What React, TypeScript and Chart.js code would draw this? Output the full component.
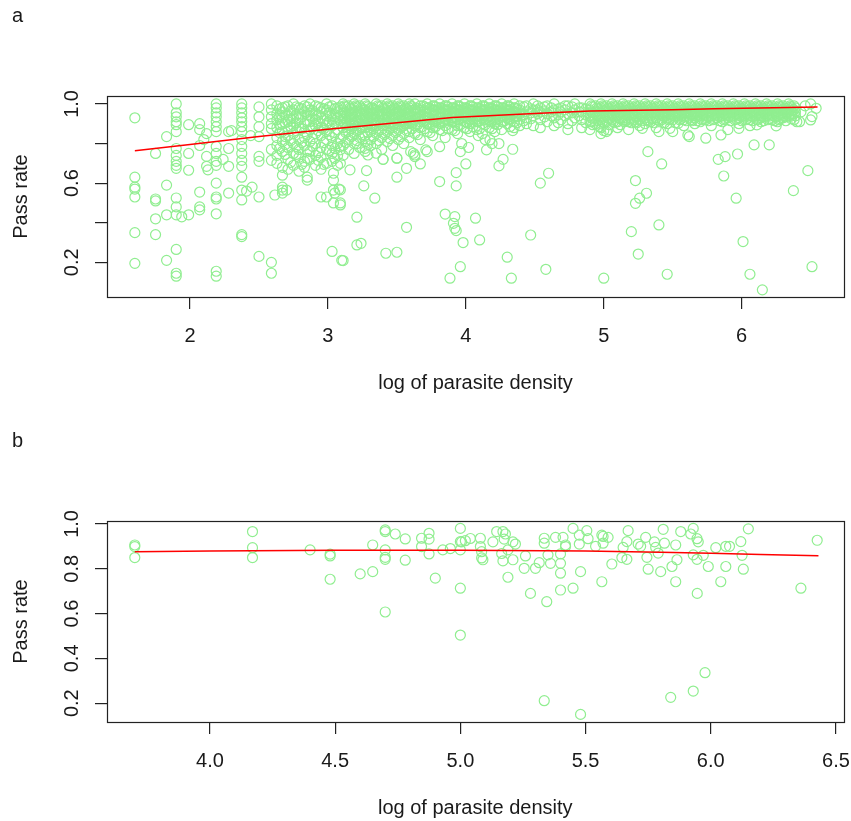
import React, { useEffect, useRef } from "react";
import { Chart, registerables } from "chart.js";

Chart.register(...registerables);

const W = 851;
const FONT = '"Liberation Sans", Arial, Helvetica, sans-serif';

// ---------------- Panel a ----------------
// scattered points (x = log of parasite density, y = pass rate)
const pointsA: [number, number][] = [
  [1.60, 0.93], [1.60, 0.63], [1.60, 0.58], [1.60, 0.57], [1.60, 0.53], [1.60, 0.35], [1.60, 0.195],
  [1.75, 0.75], [1.75, 0.52], [1.75, 0.51], [1.75, 0.42], [1.75, 0.34],
  [1.83, 0.835], [1.83, 0.59], [1.83, 0.44], [1.83, 0.21],
  [1.90, 1.0], [1.90, 0.955], [1.90, 0.935], [1.90, 0.91], [1.90, 0.895], [1.90, 0.86], [1.90, 0.775],
  [1.90, 0.74], [1.90, 0.71], [1.90, 0.69], [1.90, 0.675], [1.90, 0.525], [1.90, 0.48], [1.90, 0.44],
  [1.90, 0.265], [1.90, 0.145], [1.90, 0.13],
  [1.99, 0.895], [1.99, 0.75], [1.99, 0.665], [1.99, 0.44], [1.94, 0.43],
  [2.07, 0.90], [2.07, 0.87], [2.07, 0.79], [2.07, 0.555], [2.07, 0.48], [2.07, 0.465],
  [2.12, 0.85], [2.12, 0.735], [2.12, 0.685], [2.10, 0.82], [2.13, 0.667],
  [2.19, 1.0], [2.19, 0.98], [2.19, 0.955], [2.19, 0.935], [2.19, 0.91], [2.19, 0.885], [2.19, 0.86],
  [2.19, 0.785], [2.19, 0.75], [2.19, 0.71], [2.19, 0.69], [2.19, 0.60], [2.19, 0.53], [2.19, 0.52],
  [2.19, 0.445], [2.19, 0.155], [2.19, 0.13],
  [2.28, 0.86], [2.30, 0.865], [2.28, 0.775], [2.28, 0.685], [2.28, 0.55], [2.24, 0.72],
  [2.375, 1.0], [2.375, 0.98], [2.375, 0.955], [2.375, 0.93], [2.375, 0.91], [2.375, 0.885], [2.375, 0.86],
  [2.375, 0.82], [2.375, 0.785], [2.375, 0.75], [2.375, 0.715], [2.375, 0.685], [2.375, 0.63],
  [2.375, 0.565], [2.375, 0.515], [2.375, 0.34], [2.375, 0.33],
  [2.41, 0.56], [2.44, 0.84], [2.45, 0.58],
  [2.50, 0.985], [2.50, 0.935], [2.50, 0.885], [2.50, 0.835], [2.50, 0.735], [2.50, 0.71], [2.50, 0.53], [2.50, 0.23],
  [2.59, 1.0], [2.59, 0.97], [2.59, 0.935], [2.59, 0.90], [2.59, 0.875], [2.59, 0.77], [2.59, 0.715],
  [2.59, 0.20], [2.59, 0.145], [2.615, 0.54],
  [2.67, 0.58], [2.67, 0.565], [2.67, 0.55], [2.70, 0.565],
  [2.85, 0.63], [2.85, 0.615], [2.95, 0.53], [2.99, 0.53],
  [3.04, 0.65], [3.04, 0.615], [3.04, 0.565], [3.04, 0.50], [3.09, 0.50], [3.08, 0.57], [3.05, 0.55],
  [3.03, 0.255], [3.10, 0.21],
  [3.09, 0.768], [3.09, 0.70], [3.09, 0.566], [3.09, 0.49], [3.16, 0.667], [3.21, 0.428],
  [3.21, 0.288], [3.24, 0.296], [3.11, 0.209], [3.26, 0.586], [3.28, 0.663], [3.34, 0.524],
  [3.40, 0.72], [3.42, 0.246], [3.50, 0.251], [3.50, 0.63], [3.50, 0.726], [3.57, 0.675], [3.57, 0.377],
  [3.62, 0.751], [3.63, 0.734], [3.67, 0.697], [3.72, 0.759], [3.81, 0.608], [3.85, 0.444],
  [3.91, 0.397], [3.92, 0.372], [3.93, 0.36], [3.92, 0.431], [3.93, 0.653], [3.93, 0.586],
  [3.96, 0.759], [4.00, 0.697], [3.885, 0.12], [3.96, 0.178], [3.98, 0.30], [4.07, 0.423], [4.10, 0.313],
  [4.15, 0.768], [4.175, 0.818], [4.19, 0.80], [4.24, 0.80], [4.24, 0.687], [4.27, 0.72],
  [4.30, 0.226], [4.34, 0.865], [4.34, 0.771], [4.33, 0.12], [4.47, 0.338], [4.54, 0.60], [4.60, 0.65],
  [4.58, 0.165],
  [3.21, 0.80], [3.27, 0.776], [3.29, 0.742], [3.35, 0.751], [3.40, 0.72], [3.50, 0.726], [3.60, 0.759],
  [3.63, 0.742], [3.71, 0.768], [3.81, 0.784], [3.97, 0.80], [4.02, 0.78], [4.09, 0.84], [4.14, 0.82],
  [5.32, 0.759], [5.42, 0.697], [5.23, 0.613], [5.31, 0.549], [5.26, 0.524], [5.23, 0.498],
  [5.20, 0.355], [5.40, 0.389], [5.25, 0.242], [5.00, 0.12], [5.46, 0.14],
  [5.83, 0.72], [5.88, 0.734], [5.97, 0.747], [5.87, 0.636], [5.96, 0.524], [6.09, 0.793], [6.20, 0.793],
  [6.01, 0.305], [6.06, 0.14], [6.15, 0.061], [6.375, 0.562], [6.48, 0.663], [6.51, 0.178],
  [4.97, 0.885], [5.03, 0.869], [5.15, 0.91], [5.28, 0.877], [5.40, 0.86], [5.48, 0.877], [5.54, 0.902],
  [5.61, 0.843], [5.62, 0.835], [5.74, 0.827], [5.85, 0.843], [5.98, 0.877], [6.11, 0.894], [6.25, 0.889],
  [6.42, 0.91], [6.50, 1.0], [6.54, 0.978], [6.51, 0.936], [6.50, 0.919], [6.40, 0.91], [6.46, 0.99],
  [6.43, 0.96],
];

// dense band of points, listed per x position
const bandA: [number, number[]][] = [
  [2.63, [0.99, 0.95, 0.92, 0.88, 0.83, 0.79, 0.74, 0.70]],
  [2.67, [0.98, 0.96, 0.93, 0.90, 0.86, 0.81, 0.76, 0.68, 0.64]],
  [2.71, [0.99, 0.94, 0.91, 0.87, 0.84, 0.78, 0.72, 0.67]],
  [2.75, [1.0, 0.97, 0.93, 0.89, 0.85, 0.80, 0.75, 0.69]],
  [2.79, [0.98, 0.95, 0.92, 0.88, 0.82, 0.77, 0.73, 0.66]],
  [2.83, [0.99, 0.96, 0.90, 0.86, 0.83, 0.79, 0.71, 0.68]],
  [2.87, [1.0, 0.97, 0.94, 0.91, 0.87, 0.81, 0.76, 0.72]],
  [2.91, [0.99, 0.95, 0.92, 0.89, 0.85, 0.80, 0.74, 0.69]],
  [2.95, [0.98, 0.96, 0.93, 0.88, 0.84, 0.78, 0.73, 0.67]],
  [2.99, [1.0, 0.97, 0.94, 0.90, 0.86, 0.82, 0.77, 0.70]],
  [3.03, [0.99, 0.95, 0.92, 0.89, 0.83, 0.79, 0.75, 0.71]],
  [3.07, [0.98, 0.96, 0.93, 0.90, 0.87, 0.80, 0.74, 0.69]],
  [3.11, [1.0, 0.97, 0.94, 0.91, 0.88, 0.84, 0.79, 0.74]],
  [3.15, [0.99, 0.96, 0.93, 0.90, 0.86, 0.82, 0.77]],
  [3.19, [1.0, 0.98, 0.95, 0.92, 0.89, 0.85, 0.80, 0.75]],
  [3.23, [0.99, 0.96, 0.93, 0.90, 0.87, 0.83, 0.78]],
  [3.27, [1.0, 0.97, 0.94, 0.91, 0.88, 0.84, 0.81, 0.76]],
  [3.31, [0.98, 0.96, 0.93, 0.90, 0.86, 0.82, 0.79]],
  [3.35, [1.0, 0.97, 0.95, 0.92, 0.89, 0.85, 0.80]],
  [3.39, [0.99, 0.96, 0.94, 0.91, 0.87, 0.83, 0.77]],
  [3.43, [1.0, 0.98, 0.95, 0.92, 0.89, 0.86, 0.81]],
  [3.47, [0.99, 0.97, 0.94, 0.91, 0.88, 0.84, 0.79]],
  [3.51, [1.0, 0.98, 0.96, 0.93, 0.90, 0.87, 0.82]],
  [3.55, [0.99, 0.97, 0.94, 0.92, 0.89, 0.85, 0.80]],
  [3.59, [1.0, 0.98, 0.95, 0.93, 0.90, 0.86, 0.83]],
  [3.63, [1.0, 0.97, 0.95, 0.92, 0.89, 0.85]],
  [3.67, [0.99, 0.97, 0.94, 0.91, 0.88, 0.82]],
  [3.72, [1.0, 0.98, 0.95, 0.93, 0.90, 0.86]],
  [3.76, [0.99, 0.97, 0.94, 0.92, 0.88, 0.84]],
  [3.81, [1.0, 0.98, 0.96, 0.93, 0.90, 0.87]],
  [3.85, [0.99, 0.97, 0.95, 0.92, 0.89, 0.83]],
  [3.90, [1.0, 0.98, 0.96, 0.93, 0.91, 0.87]],
  [3.94, [0.99, 0.97, 0.95, 0.92, 0.89, 0.85]],
  [3.99, [1.0, 0.98, 0.96, 0.94, 0.91, 0.88]],
  [4.03, [0.99, 0.97, 0.95, 0.92, 0.90, 0.86]],
  [4.08, [1.0, 0.98, 0.96, 0.94, 0.91, 0.87]],
  [4.12, [0.99, 0.97, 0.95, 0.93, 0.90, 0.85]],
  [4.17, [1.0, 0.98, 0.96, 0.94, 0.92, 0.88]],
  [4.21, [0.99, 0.97, 0.95, 0.93, 0.90, 0.86]],
  [4.26, [1.0, 0.98, 0.96, 0.94, 0.91, 0.87]],
  [4.30, [0.99, 0.97, 0.95, 0.93, 0.90]],
  [4.35, [1.0, 0.98, 0.96, 0.94, 0.91, 0.88]],
  [4.39, [0.99, 0.97, 0.95, 0.92, 0.89]],
  [4.44, [0.99, 0.96, 0.93, 0.90]],
  [4.49, [1.0, 0.97, 0.94, 0.89]],
  [4.54, [0.98, 0.96, 0.92, 0.88]],
  [4.59, [0.99, 0.95, 0.91]],
  [4.64, [1.0, 0.97, 0.93, 0.89]],
  [4.69, [0.98, 0.96, 0.92]],
  [4.74, [0.99, 0.95, 0.90, 0.87]],
  [4.79, [1.0, 0.97, 0.93]],
  [4.84, [0.98, 0.96, 0.92, 0.88]],
  [4.90, [1.0, 0.97, 0.94, 0.91, 0.87]],
  [4.94, [0.99, 0.96, 0.93, 0.90]],
  [4.98, [1.0, 0.98, 0.95, 0.92, 0.88, 0.85]],
  [5.02, [0.99, 0.97, 0.94, 0.91, 0.86]],
  [5.06, [1.0, 0.98, 0.95, 0.92]],
  [5.10, [0.99, 0.97, 0.94, 0.91, 0.88]],
  [5.14, [1.0, 0.98, 0.96, 0.93]],
  [5.18, [0.99, 0.97, 0.94, 0.91, 0.87]],
  [5.22, [1.0, 0.98, 0.95, 0.92]],
  [5.26, [0.99, 0.97, 0.95, 0.92, 0.89]],
  [5.30, [1.0, 0.98, 0.96, 0.93, 0.90]],
  [5.34, [0.99, 0.97, 0.94, 0.91]],
  [5.38, [1.0, 0.98, 0.96, 0.93, 0.88]],
  [5.42, [0.99, 0.97, 0.95, 0.92]],
  [5.46, [1.0, 0.98, 0.96, 0.93, 0.90]],
  [5.50, [0.99, 0.97, 0.95, 0.92, 0.86]],
  [5.54, [1.0, 0.98, 0.96, 0.94]],
  [5.58, [0.99, 0.97, 0.95, 0.92, 0.89]],
  [5.62, [1.0, 0.98, 0.96, 0.93]],
  [5.66, [0.99, 0.97, 0.95, 0.93, 0.90]],
  [5.70, [1.0, 0.98, 0.96, 0.94, 0.91]],
  [5.74, [0.99, 0.97, 0.95, 0.92]],
  [5.78, [1.0, 0.98, 0.96, 0.94, 0.89]],
  [5.82, [0.99, 0.97, 0.95, 0.93]],
  [5.86, [1.0, 0.98, 0.96, 0.94, 0.91]],
  [5.90, [0.99, 0.97, 0.95, 0.93, 0.87]],
  [5.94, [1.0, 0.98, 0.96, 0.94]],
  [5.98, [0.99, 0.97, 0.95, 0.93, 0.90]],
  [6.02, [1.0, 0.98, 0.96, 0.94]],
  [6.06, [0.99, 0.97, 0.95, 0.92, 0.89]],
  [6.10, [1.0, 0.98, 0.96, 0.94]],
  [6.14, [0.99, 0.97, 0.95, 0.93, 0.91]],
  [6.18, [1.0, 0.98, 0.96, 0.94]],
  [6.22, [0.99, 0.97, 0.95, 0.92]],
  [6.26, [1.0, 0.98, 0.96, 0.94, 0.91]],
  [6.30, [0.99, 0.97, 0.95, 0.93]],
  [6.34, [1.0, 0.98, 0.96, 0.94]],
  [6.38, [0.99, 0.97, 0.95, 0.92]],
];

// more band points in between the columns above
const bandA2: [number, number[]][] = [
  [2.65, [0.975, 0.935, 0.895, 0.855, 0.775]],
  [2.69, [0.985, 0.945, 0.905, 0.835, 0.795, 0.745]],
  [2.73, [0.965, 0.925, 0.885, 0.815, 0.705]],
  [2.77, [0.985, 0.945, 0.905, 0.865, 0.785, 0.745]],
  [2.81, [0.975, 0.935, 0.875, 0.805, 0.695]],
  [2.85, [0.985, 0.945, 0.915, 0.845, 0.765, 0.725]],
  [2.89, [0.965, 0.925, 0.885, 0.825, 0.785]],
  [2.93, [0.985, 0.945, 0.905, 0.865, 0.755, 0.715]],
  [2.97, [0.975, 0.915, 0.875, 0.805, 0.695]],
  [3.01, [0.985, 0.955, 0.915, 0.845, 0.765]],
  [3.05, [0.975, 0.935, 0.905, 0.855, 0.775, 0.725]],
  [3.09, [0.985, 0.945, 0.915, 0.825, 0.785]],
  [3.13, [0.985, 0.955, 0.925, 0.895, 0.855, 0.805]],
  [3.17, [0.975, 0.945, 0.915, 0.875, 0.835]],
  [3.21, [0.985, 0.965, 0.935, 0.905, 0.865, 0.815]],
  [3.25, [0.975, 0.945, 0.915, 0.885, 0.845]],
  [3.29, [0.985, 0.955, 0.925, 0.895, 0.855, 0.795]],
  [3.33, [0.975, 0.945, 0.915, 0.875, 0.835]],
  [3.37, [0.985, 0.965, 0.935, 0.905, 0.865, 0.815]],
  [3.41, [0.975, 0.945, 0.925, 0.895, 0.845]],
  [3.45, [0.985, 0.965, 0.935, 0.905, 0.875, 0.825]],
  [3.49, [0.975, 0.955, 0.925, 0.895, 0.855]],
  [3.53, [0.985, 0.965, 0.945, 0.915, 0.885, 0.835]],
  [3.57, [0.975, 0.955, 0.925, 0.905, 0.865]],
  [3.61, [0.985, 0.965, 0.935, 0.905, 0.875]],
  [3.65, [0.975, 0.955, 0.925, 0.895, 0.845]],
  [3.70, [0.985, 0.965, 0.935, 0.915, 0.875]],
  [3.74, [0.975, 0.955, 0.925, 0.895, 0.855]],
  [3.78, [0.985, 0.965, 0.945, 0.915, 0.885]],
  [3.83, [0.975, 0.955, 0.935, 0.905, 0.865]],
  [3.87, [0.985, 0.965, 0.945, 0.915, 0.875]],
  [3.92, [0.975, 0.955, 0.935, 0.905, 0.865]],
  [3.96, [0.985, 0.965, 0.945, 0.925, 0.895]],
  [4.01, [0.975, 0.955, 0.935, 0.905, 0.875]],
  [4.05, [0.985, 0.965, 0.945, 0.925, 0.885]],
  [4.10, [0.975, 0.955, 0.935, 0.915, 0.875]],
  [4.14, [0.985, 0.965, 0.945, 0.925, 0.895]],
  [4.19, [0.975, 0.955, 0.935, 0.915, 0.875]],
  [4.23, [0.985, 0.965, 0.945, 0.925, 0.895]],
  [4.28, [0.975, 0.955, 0.935, 0.915]],
  [4.32, [0.985, 0.965, 0.945, 0.925, 0.885]],
  [4.37, [0.975, 0.955, 0.935, 0.905]],
  [4.42, [0.985, 0.945, 0.915]],
  [4.47, [0.975, 0.955, 0.925]],
  [4.57, [0.985, 0.965, 0.935]],
  [4.67, [0.975, 0.945, 0.905]],
  [4.77, [0.985, 0.955, 0.915]],
  [4.87, [0.975, 0.945, 0.905]],
  [4.92, [0.985, 0.955, 0.925, 0.895]],
  [4.96, [0.975, 0.945, 0.915]],
  [5.00, [0.985, 0.965, 0.935, 0.905, 0.865]],
  [5.04, [0.975, 0.955, 0.925, 0.895]],
  [5.08, [0.985, 0.965, 0.935, 0.905]],
  [5.12, [0.975, 0.955, 0.925, 0.895]],
  [5.16, [0.985, 0.965, 0.945, 0.915]],
  [5.20, [0.975, 0.955, 0.925, 0.905]],
  [5.24, [0.985, 0.965, 0.935, 0.905]],
  [5.28, [0.975, 0.955, 0.935, 0.915]],
  [5.32, [0.985, 0.965, 0.945, 0.915]],
  [5.36, [0.975, 0.955, 0.925, 0.905]],
  [5.40, [0.985, 0.965, 0.945, 0.915]],
  [5.44, [0.975, 0.955, 0.935, 0.905]],
  [5.48, [0.985, 0.965, 0.945, 0.925]],
  [5.52, [0.975, 0.955, 0.935, 0.905]],
  [5.56, [0.985, 0.965, 0.945, 0.925]],
  [5.60, [0.975, 0.955, 0.935, 0.915]],
  [5.64, [0.985, 0.965, 0.945, 0.915]],
  [5.68, [0.975, 0.955, 0.935, 0.915]],
  [5.72, [0.985, 0.965, 0.945, 0.925]],
  [5.76, [0.975, 0.955, 0.935, 0.915]],
  [5.80, [0.985, 0.965, 0.945, 0.925]],
  [5.84, [0.975, 0.955, 0.935, 0.915]],
  [5.88, [0.985, 0.965, 0.945, 0.925]],
  [5.92, [0.975, 0.955, 0.935, 0.915]],
  [5.96, [0.985, 0.965, 0.945, 0.925]],
  [6.00, [0.975, 0.955, 0.935, 0.915]],
  [6.04, [0.985, 0.965, 0.945, 0.925]],
  [6.08, [0.975, 0.955, 0.935, 0.915]],
  [6.12, [0.985, 0.965, 0.945, 0.925]],
  [6.16, [0.975, 0.955, 0.935, 0.915]],
  [6.20, [0.985, 0.965, 0.945, 0.925]],
  [6.24, [0.975, 0.955, 0.935, 0.915]],
  [6.28, [0.985, 0.965, 0.945, 0.925]],
  [6.32, [0.975, 0.955, 0.935, 0.915]],
  [6.36, [0.985, 0.965, 0.945, 0.925]],
];

// a third layer of band points (densest part of the cloud)
const bandA3: [number, number[]][] = [
  [3.12, [0.99, 0.96, 0.93, 0.90]], [3.16, [0.98, 0.95, 0.92, 0.89]],
  [3.20, [0.99, 0.96, 0.94, 0.91]], [3.24, [0.98, 0.95, 0.92, 0.88]],
  [3.28, [0.99, 0.96, 0.93, 0.90]], [3.32, [0.98, 0.95, 0.92, 0.89]],
  [3.36, [0.99, 0.96, 0.94, 0.91]], [3.40, [0.98, 0.95, 0.92, 0.89]],
  [3.44, [0.99, 0.96, 0.93, 0.90]], [3.48, [0.98, 0.95, 0.93, 0.90]],
  [3.52, [0.99, 0.96, 0.94, 0.91]], [3.56, [0.98, 0.95, 0.93, 0.90]],
  [3.60, [0.99, 0.96, 0.94, 0.91]], [3.64, [0.98, 0.96, 0.93, 0.90]],
  [3.69, [0.99, 0.96, 0.94, 0.91]], [3.73, [0.98, 0.96, 0.93, 0.90]],
  [3.77, [0.99, 0.97, 0.94, 0.91]], [3.82, [0.98, 0.96, 0.93, 0.91]],
  [3.86, [0.99, 0.97, 0.94, 0.92]], [3.91, [0.98, 0.96, 0.93, 0.91]],
  [3.95, [0.99, 0.97, 0.94, 0.92]], [4.00, [0.98, 0.96, 0.94, 0.91]],
  [4.04, [0.99, 0.97, 0.94, 0.92]], [4.09, [0.98, 0.96, 0.94, 0.91]],
  [4.13, [0.99, 0.97, 0.94, 0.92]], [4.18, [0.98, 0.96, 0.94, 0.91]],
  [4.22, [0.99, 0.97, 0.95, 0.92]], [4.27, [0.98, 0.96, 0.94, 0.91]],
  [4.31, [0.99, 0.97, 0.95, 0.92]], [4.36, [0.98, 0.96, 0.94]],
  [4.52, [0.99, 0.97, 0.95]], [4.62, [0.98, 0.96, 0.94]],
  [4.72, [0.99, 0.97, 0.94]], [4.82, [0.98, 0.96, 0.94]],
  [4.91, [0.99, 0.96, 0.93, 0.91]], [4.95, [0.98, 0.96, 0.94]],
  [4.99, [0.99, 0.97, 0.94, 0.91]], [5.03, [0.98, 0.96, 0.93]],
  [5.07, [0.99, 0.97, 0.94, 0.91]], [5.11, [0.98, 0.96, 0.93]],
  [5.15, [0.99, 0.97, 0.95, 0.92]], [5.19, [0.98, 0.96, 0.93]],
  [5.23, [0.99, 0.97, 0.94, 0.91]], [5.27, [0.98, 0.96, 0.94]],
  [5.31, [0.99, 0.97, 0.95, 0.92]], [5.35, [0.98, 0.96, 0.93]],
  [5.39, [0.99, 0.97, 0.95, 0.92]], [5.43, [0.98, 0.96, 0.94]],
  [5.47, [0.99, 0.97, 0.95, 0.92]], [5.51, [0.98, 0.96, 0.94]],
  [5.55, [0.99, 0.97, 0.95, 0.92]], [5.59, [0.98, 0.96, 0.94]],
  [5.63, [0.99, 0.97, 0.95, 0.92]], [5.67, [0.98, 0.96, 0.94]],
  [5.71, [0.99, 0.97, 0.95, 0.92]], [5.75, [0.98, 0.96, 0.94]],
  [5.79, [0.99, 0.97, 0.95, 0.92]], [5.83, [0.98, 0.96, 0.94]],
  [5.87, [0.99, 0.97, 0.95, 0.92]], [5.91, [0.98, 0.96, 0.94]],
  [5.95, [0.99, 0.97, 0.95, 0.92]], [5.99, [0.98, 0.96, 0.94]],
  [6.03, [0.99, 0.97, 0.95, 0.92]], [6.07, [0.98, 0.96, 0.94]],
  [6.11, [0.99, 0.97, 0.95, 0.92]], [6.15, [0.98, 0.96, 0.94]],
  [6.19, [0.99, 0.97, 0.95, 0.92]], [6.23, [0.98, 0.96, 0.94]],
  [6.27, [0.99, 0.97, 0.95, 0.92]], [6.31, [0.98, 0.96, 0.94]],
  [6.35, [0.99, 0.97, 0.95]], [6.39, [0.98, 0.96, 0.94]],
];

// smoothed fit (red line)
const fitAX = [1.6, 2.0, 2.5, 3.0, 3.5, 3.9, 4.5, 4.9, 5.5, 5.8, 6.55];
const fitAY = [0.764, 0.795, 0.835, 0.872, 0.905, 0.932, 0.952, 0.964, 0.970, 0.975, 0.985];

const xTicksA = [2, 3, 4, 5, 6];
const xLabelsA = ["2", "3", "4", "5", "6"];
const yTicksA = [0.2, 0.4, 0.6, 0.8, 1.0];
const yLabelsA = ["0.2", "", "0.6", "", "1.0"];

// ---------------- Panel b ----------------
const pointsB: [number, number][] = [
  [3.70, 0.906], [3.70, 0.899], [3.70, 0.85],
  [4.17, 0.966], [4.17, 0.894], [4.17, 0.85],
  [4.40, 0.884], [4.48, 0.865], [4.48, 0.857], [4.48, 0.753],
  [4.70, 0.973], [4.70, 0.966], [4.74, 0.955], [4.78, 0.933], [4.65, 0.906], [4.70, 0.884],
  [4.70, 0.851], [4.70, 0.842], [4.78, 0.838], [4.60, 0.777], [4.65, 0.787], [4.70, 0.607],
  [4.845, 0.936], [4.845, 0.899], [4.875, 0.958], [4.875, 0.932], [4.875, 0.866], [4.90, 0.758],
  [4.93, 0.884], [4.96, 0.89],
  [5.0, 0.98], [5.0, 0.921], [5.0, 0.884], [5.005, 0.92], [5.02, 0.925], [5.0, 0.713], [5.0, 0.504],
  [5.04, 0.935], [5.08, 0.936], [5.08, 0.899], [5.085, 0.876], [5.085, 0.848], [5.09, 0.84],
  [5.13, 0.92], [5.145, 0.966], [5.17, 0.966], [5.18, 0.955], [5.175, 0.932], [5.165, 0.868],
  [5.17, 0.835], [5.19, 0.884],
  [5.21, 0.92], [5.22, 0.91], [5.21, 0.84], [5.19, 0.762], [5.26, 0.857], [5.255, 0.802], [5.28, 0.69],
  [5.30, 0.802], [5.315, 0.827],
  [5.335, 0.936], [5.335, 0.914], [5.345, 0.653], [5.335, 0.211], [5.35, 0.862], [5.36, 0.824], [5.38, 0.94],
  [5.40, 0.866], [5.40, 0.824], [5.40, 0.78], [5.40, 0.705], [5.41, 0.94], [5.42, 0.906], [5.42, 0.899],
  [5.45, 0.98], [5.45, 0.713], [5.475, 0.95], [5.475, 0.91], [5.48, 0.787], [5.48, 0.15],
  [5.505, 0.97], [5.51, 0.934],
  [5.54, 0.9], [5.565, 0.95], [5.57, 0.944], [5.59, 0.94], [5.57, 0.914], [5.565, 0.742], [5.605, 0.821],
  [5.645, 0.85], [5.665, 0.842], [5.65, 0.895], [5.665, 0.921], [5.67, 0.97], [5.71, 0.91], [5.72, 0.9],
  [5.74, 0.94], [5.745, 0.851], [5.75, 0.798],
  [5.775, 0.92], [5.78, 0.895], [5.79, 0.87], [5.80, 0.787], [5.81, 0.976], [5.815, 0.914], [5.845, 0.81],
  [5.86, 0.906], [5.865, 0.84], [5.86, 0.742], [5.88, 0.966], [5.84, 0.226],
  [5.92, 0.955], [5.93, 0.98], [5.93, 0.862], [5.945, 0.934], [5.95, 0.92], [5.945, 0.842], [5.946, 0.69],
  [5.93, 0.254], [5.977, 0.336], [5.97, 0.86], [5.99, 0.81],
  [6.02, 0.894], [6.04, 0.742], [6.06, 0.81], [6.06, 0.9], [6.075, 0.9], [6.12, 0.921], [6.125, 0.86],
  [6.13, 0.798], [6.15, 0.978], [6.36, 0.713], [6.425, 0.927],
];

const fitBX = [3.7, 4.0, 4.5, 5.0, 5.5, 5.8, 6.0, 6.2, 6.43];
const fitBY = [0.876, 0.879, 0.882, 0.882, 0.879, 0.874, 0.869, 0.864, 0.858];

const xTicksB = [4.0, 4.5, 5.0, 5.5, 6.0, 6.5];
const xLabelsB = ["4.0", "4.5", "5.0", "5.5", "6.0", "6.5"];
const yTicksB = [0.2, 0.4, 0.6, 0.8, 1.0];
const yLabelsB = ["0.2", "0.4", "0.6", "0.8", "1.0"];

const X_TITLE = "log of parasite density";
const Y_TITLE = "Pass rate";

type Area = { left: number; top: number; right: number; bottom: number };

type PanelProps = {
  letter: string;
  points: { x: number; y: number }[];
  fit: { x: number; y: number }[];
  xMin: number;
  xMax: number;
  yMin: number;
  yMax: number;
  xTicks: number[];
  xLabels: string[];
  yTicks: number[];
  yLabels: string[];
  height: number;
  offsetTop: number;
  area: Area;
};

function Panel(p: PanelProps) {
  const ref = useRef<HTMLCanvasElement>(null);
  useEffect(() => {
    const canvas = ref.current!;
    const H = p.height;
    const A = p.area;
    const decor = {
      id: "rdecor",
      afterDraw(chart: any) {
        const ctx = chart.ctx as CanvasRenderingContext2D;
        const a = chart.chartArea;
        const xs = chart.scales.x;
        const ys = chart.scales.y;
        ctx.save();
        ctx.strokeStyle = "#222";
        ctx.lineWidth = 1.2;
        ctx.strokeRect(Math.round(a.left) + 0.5, Math.round(a.top) + 0.5,
          Math.round(a.right - a.left), Math.round(a.bottom - a.top));
        ctx.fillStyle = "#1a1a1a";
        ctx.font = `20px ${FONT}`;
        ctx.textAlign = "center";
        ctx.textBaseline = "alphabetic";
        p.xTicks.forEach((v, i) => {
          ctx.fillText(p.xLabels[i], xs.getPixelForValue(v), a.bottom + 45);
        });
        ctx.fillText(X_TITLE, (a.left + a.right) / 2, a.bottom + 92);
        p.yTicks.forEach((v, i) => {
          if (!p.yLabels[i]) return;
          ctx.save();
          ctx.translate(78, ys.getPixelForValue(v));
          ctx.rotate(-Math.PI / 2);
          ctx.fillText(p.yLabels[i], 0, 0);
          ctx.restore();
        });
        ctx.save();
        ctx.translate(27, (a.top + a.bottom) / 2);
        ctx.rotate(-Math.PI / 2);
        ctx.fillText(Y_TITLE, 0, 0);
        ctx.restore();
        ctx.textAlign = "left";
        ctx.fillText(p.letter, 12, a.top - 74);
        ctx.restore();
      },
    };
    const chart = new Chart(canvas, {
      type: "scatter",
      data: {
        datasets: [
          {
            type: "line",
            data: p.fit,
            borderColor: "#ff0000",
            borderWidth: 1.5,
            pointRadius: 0,
            fill: false,
            tension: 0,
            order: 0,
          } as any,
          {
            type: "scatter",
            data: p.points,
            pointStyle: "circle",
            pointRadius: 5,
            pointBorderWidth: 1.2,
            borderColor: "#90EE90",
            backgroundColor: "rgba(0,0,0,0)",
            pointBackgroundColor: "rgba(0,0,0,0)",
            pointBorderColor: "#90EE90",
            order: 1,
          } as any,
        ],
      },
      options: {
        responsive: false,
        animation: false,
        devicePixelRatio: 1,
        layout: {
          autoPadding: false,
          padding: { top: A.top, left: 0, right: W - A.right, bottom: 0 },
        },
        plugins: { legend: { display: false }, tooltip: { enabled: false }, title: { display: false } },
        events: [],
        scales: {
          x: {
            type: "linear",
            position: "bottom",
            min: p.xMin,
            max: p.xMax,
            afterBuildTicks: (s: any) => { s.ticks = p.xTicks.map((v) => ({ value: v })); },
            afterFit: (s: any) => { s.height = H - A.bottom; },
            ticks: { display: false },
            grid: { drawOnChartArea: false, drawTicks: true, tickLength: 12, color: "#222", lineWidth: 1.2 },
            border: { display: false },
          },
          y: {
            type: "linear",
            position: "left",
            min: p.yMin,
            max: p.yMax,
            afterBuildTicks: (s: any) => { s.ticks = p.yTicks.map((v) => ({ value: v })); },
            afterFit: (s: any) => { s.width = A.left; },
            ticks: { display: false },
            grid: { drawOnChartArea: false, drawTicks: true, tickLength: 12, color: "#222", lineWidth: 1.2 },
            border: { display: false },
          },
        },
      } as any,
      plugins: [decor],
    });
    return () => chart.destroy();
  }, []);
  return (
    <canvas
      ref={ref}
      width={W}
      height={p.height}
      style={{ position: "absolute", left: 0, top: p.offsetTop, width: W, height: p.height }}
    />
  );
}

const toXY = (arr: [number, number][]) => arr.map(([x, y]) => ({ x, y }));
const flattenBand = (band: [number, number[]][]) =>
  band.flatMap(([x, ys]) => ys.map((y) => ({ x, y })));
const zipXY = (xs: number[], ys: number[]) => xs.map((x, i) => ({ x, y: ys[i] }));

export default function App() {
  const ptsA = [...flattenBand(bandA), ...flattenBand(bandA2), ...flattenBand(bandA3), ...toXY(pointsA)];
  const ptsB = toXY(pointsB);
  return (
    <div style={{ position: "absolute", left: 0, top: 0, width: W, height: 821, background: "#fff" }}>
      <Panel
        letter="a"
        points={ptsA}
        fit={zipXY(fitAX, fitAY)}
        xMin={1.398}
        xMax={6.742}
        yMin={0.025}
        yMax={1.04}
        xTicks={xTicksA}
        xLabels={xLabelsA}
        yTicks={yTicksA}
        yLabels={yLabelsA}
        height={420}
        offsetTop={0}
        area={{ left: 107, top: 96, right: 844, bottom: 297 }}
      />
      <Panel
        letter="b"
        points={ptsB}
        fit={zipXY(fitBX, fitBY)}
        xMin={3.589}
        xMax={6.53}
        yMin={0.116}
        yMax={1.013}
        xTicks={xTicksB}
        xLabels={xLabelsB}
        yTicks={yTicksB}
        yLabels={yLabelsB}
        height={401}
        offsetTop={420}
        area={{ left: 107, top: 101, right: 843.5, bottom: 302 }}
      />
    </div>
  );
}
